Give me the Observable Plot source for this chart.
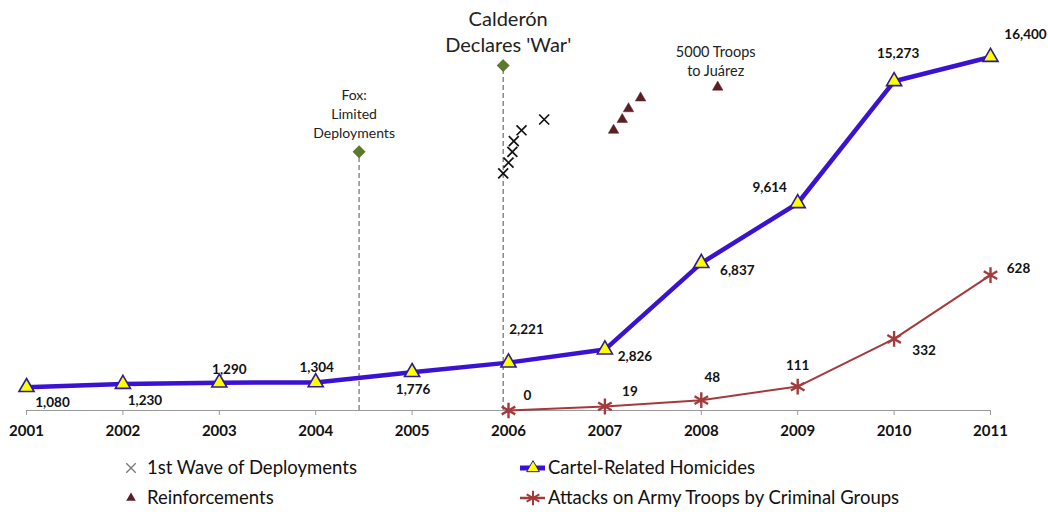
<!DOCTYPE html>
<html>
<head>
<meta charset="utf-8">
<script src="https://cdn.jsdelivr.net/npm/d3@7"></script>
<script src="https://cdn.jsdelivr.net/npm/@observablehq/plot@0.6"></script>
<style>
  body { margin: 0; background: #fff; font-family: Lato, "Noto Sans", sans-serif; }
  #wrap { position: relative; width: 1048px; height: 512px; }
  #legend { position: absolute; left: 0; top: 445px; }
</style>
</head>
<body>
<div id="wrap"><div id="chart"></div><svg id="legend" width="1048" height="67"></svg></div>
<script>
// ---- data ----
const years = [2001, 2002, 2003, 2004, 2005, 2006, 2007, 2008, 2009, 2010, 2011];
const homicides = [1080, 1230, 1290, 1304, 1776, 2221, 2826, 6837, 9614, 15273, 16400];
const attackYears = [2006, 2007, 2008, 2009, 2010, 2011];
const attacks = [0, 19, 48, 111, 332, 628];
const deployYears = [2005.945, 2006.0, 2006.04, 2006.055, 2006.135, 2006.37];
const deployLevels = [11000, 11500, 12000, 12500, 13000, 13500];
const reinfYears = [2007.09, 2007.18, 2007.245, 2007.37, 2008.17];
const reinfLevels = [13000, 13500, 14000, 14500, 15000];
const eventNames = ["Fox:\nLimited\nDeployments", "Calderón\nDeclares 'War'"];
const eventYears = [2004.45, 2005.945];
const eventLevels = [12000, 16000];
const reinfNote = "5000 Troops\nto Juárez";
const seriesNames = ["1st Wave of Deployments", "Reinforcements", "Cartel-Related Homicides", "Attacks on Army Troops by Criminal Groups"];
const attackAxisRatio = 10; // secondary axis: 1 attack = 10 homicide units

// ---- label layout (pixel offsets) ----
const homDx = [26, 22, 10, 1, 1, 18, 30, 36, -28, 4, 35];
const homDy = [15, 17, -13, -15, 17, -33, 7, 8, -16, -28, -22];
const attDx = [19, 25, 11, 0, 30, 28];
const attDy = [-15, -15, -22, -21, 12, -6];

const homData = years.map((y, i) => ({year: y, value: homicides[i]}));
const attData = attackYears.map((y, i) => ({year: y, value: attacks[i]}));
const deployData = deployYears.map((y, i) => ({year: y, value: deployLevels[i]}));
const reinfData = reinfYears.map((y, i) => ({year: y, value: reinfLevels[i]}));
const eventData = eventYears.map((y, i) => ({year: y, value: eventLevels[i], name: eventNames[i]}));

const BLUE = "#3a12d2", RED = "#a33a3c", MAROON = "#5a1e24", GREEN = "#5b7a2e";
const fmt = d3.format(",");

const labelMarks = [];
homData.forEach((d, i) => labelMarks.push(Plot.text([d], {
  x: "year", y: "value", text: d => fmt(d.value), dx: homDx[i], dy: homDy[i],
  fontWeight: "bold", fontSize: 13.5, fill: "#111"
})));
attData.forEach((d, i) => labelMarks.push(Plot.text([d], {
  x: "year", y: d => d.value * attackAxisRatio, text: d => fmt(d.value), dx: attDx[i], dy: attDy[i],
  fontWeight: "bold", fontSize: 13.5, fill: "#111"
})));

const chart = Plot.plot({
  width: 1048, height: 445,
  marginLeft: 26, marginRight: 58, marginTop: 22, marginBottom: 35,
  style: {fontFamily: "Lato, 'Noto Sans', sans-serif", background: "#fff", overflow: "visible"},
  x: {domain: [2001, 2011], axis: null},
  y: {domain: [0, 18000], axis: null},
  marks: [
    Plot.ruleY([0], {stroke: "#9a9a9a", strokeWidth: 1}),
    Plot.axisX({ticks: years, tickFormat: d => String(d), tickSize: 5, tickPadding: 10, label: null,
      fontSize: 15, fontWeight: "bold", stroke: "#9a9a9a", fill: "#111"}),
    Plot.ruleX(eventData, {x: "year", y1: 0, y2: "value", stroke: "#7a7a7a", strokeWidth: 1.3, strokeDasharray: "5,3"}),
    Plot.dot(eventData, {x: "year", y: "value", symbol: "diamond2", r: 4.9, fill: GREEN, stroke: GREEN}),
    Plot.text([eventData[0]], {x: "year", y: "value", text: "name", lineAnchor: "bottom", dy: -14, dx: -5,
      fontSize: 14, lineHeight: 1.35, fill: "#222"}),
    Plot.text([eventData[1]], {x: "year", y: "value", text: "name", lineAnchor: "bottom", dy: -14, dx: 5,
      fontSize: 20, lineHeight: 1.3, fill: "#222"}),
    Plot.dot(deployData, {x: "year", y: "value", symbol: "times", r: 4.6, stroke: "#111", strokeWidth: 1.7}),
    Plot.dot(reinfData, {x: "year", y: "value", symbol: "triangle", r: 3.9, fill: MAROON, stroke: MAROON, strokeWidth: 0.5}),
    Plot.text([reinfData[reinfData.length - 1]], {x: "year", y: "value", text: () => reinfNote, lineAnchor: "bottom",
      dy: -11, dx: -2, fontSize: 14.5, lineHeight: 1.3, fill: "#222"}),
    Plot.line(attData, {x: "year", y: d => d.value * attackAxisRatio, stroke: RED, strokeWidth: 2}),
    Plot.dot(attData, {x: "year", y: d => d.value * attackAxisRatio, symbol: "asterisk", r: 7.4, stroke: RED, strokeWidth: 2.4}),
    Plot.line(homData, {x: "year", y: "value", stroke: BLUE, strokeWidth: 4.5}),
    Plot.dot(homData, {x: "year", y: "value", symbol: "triangle", r: 5.6, fill: "#ffff00", stroke: "#2b1b9a", strokeWidth: 1.6}),
    ...labelMarks
  ]
});
document.getElementById("chart").appendChild(chart);

// ---- legend ----
const lg = d3.select("#legend");
const items = [
  {x: 131, y: 23, icon: "times", name: seriesNames[0]},
  {x: 131, y: 53, icon: "reinf", name: seriesNames[1]},
  {x: 533, y: 23, icon: "hom", name: seriesNames[2]},
  {x: 533, y: 53, icon: "att", name: seriesNames[3]}
];
items.forEach(it => {
  const g = lg.append("g").attr("transform", `translate(${it.x},${it.y})`);
  if (it.icon === "times") {
    g.append("path").attr("d", d3.symbol(d3.symbolTimes, 60)()).attr("stroke", "#777").attr("stroke-width", 1.3).attr("fill", "none");
  } else if (it.icon === "reinf") {
    g.append("path").attr("d", d3.symbol(d3.symbolTriangle, 40)()).attr("fill", MAROON);
  } else if (it.icon === "hom") {
    g.append("line").attr("x1", -13).attr("x2", 12).attr("stroke", BLUE).attr("stroke-width", 5);
    g.append("path").attr("d", d3.symbol(d3.symbolTriangle, 70)()).attr("fill", "#ffff00").attr("stroke", "#2b1b9a").attr("stroke-width", 1);
  } else {
    g.append("line").attr("x1", -13).attr("x2", 12).attr("stroke", RED).attr("stroke-width", 2.5);
    g.append("path").attr("d", d3.symbol(d3.symbolAsterisk, 150)()).attr("stroke", RED).attr("stroke-width", 2).attr("fill", "none");
  }
  lg.append("text").attr("x", it.icon === "times" || it.icon === "reinf" ? it.x + 16 : it.x + 15).attr("y", it.y)
    .attr("dy", "0.35em").attr("font-size", 18.5).attr("fill", "#111")
    .attr("font-family", "Lato, 'Noto Sans', sans-serif").text(it.name);
});
</script>
</body>
</html>
